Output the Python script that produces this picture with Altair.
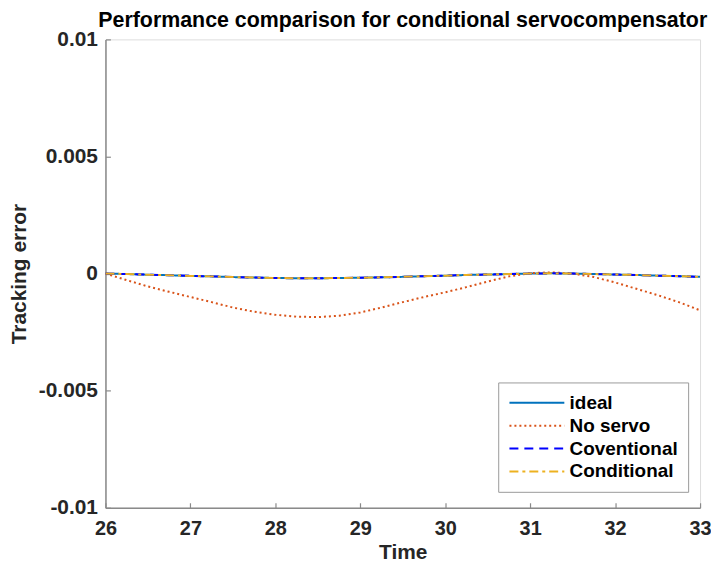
import altair as alt
import pandas as pd

time = [26.0, 26.25, 26.5, 26.75, 27.0, 27.25, 27.5, 27.75, 28.0, 28.25, 28.5, 28.75,
        29.0, 29.25, 29.5, 29.75, 30.0, 30.25, 30.5, 30.75, 31.0, 31.25, 31.5, 31.75,
        32.0, 32.25, 32.5, 32.75, 33.0]

no_servo = [0.0, -0.28, -0.55, -0.78, -1.00, -1.22, -1.45, -1.63, -1.76, -1.84, -1.86, -1.80,
            -1.66, -1.45, -1.22, -1.00, -0.80, -0.58, -0.34, -0.12, 0.02, 0.05, 0.00, -0.15,
            -0.38, -0.65, -0.92, -1.22, -1.57]

ideal = [0.0, -0.02, -0.05, -0.07, -0.10, -0.12, -0.15, -0.17, -0.19, -0.20, -0.20, -0.19,
         -0.18, -0.16, -0.14, -0.11, -0.09, -0.06, -0.04, -0.02, 0.00, 0.01, 0.00, -0.02,
         -0.04, -0.06, -0.09, -0.11, -0.14]

conventional = list(ideal)
conditional = list(ideal)

series_names = ["ideal", "No servo", "Coventional", "Conditional"]
series_colors = ["#0072BD", "#D95319", "#0000FF", "#EDB120"]
series_dash = [[1, 0], [2, 3], [9, 6], [9, 4, 3, 4]]
series_width = [2, 2, 2, 3]

rows = []
for name, vals in zip(series_names, [ideal, no_servo, conventional, conditional]):
    for t, v in zip(time, vals):
        rows.append({"Time": t, "err": v * 1e-3, "series": name})
df = pd.DataFrame(rows)

W, H = 598, 471
FONT = "Liberation Sans"
AXC = "#8a8a8a"
TXT = "#262626"

xscale = alt.Scale(domain=[26, 33], nice=False, zero=False)
yscale = alt.Scale(domain=[-0.01, 0.01], nice=False, zero=False)

x_enc = alt.X("Time:Q", scale=xscale,
              axis=alt.Axis(title="Time", values=list(range(26, 34)), ticks=False,
                            labelFontSize=20, labelFontWeight="bold", labelColor=TXT,
                            labelFont=FONT, titleFont=FONT, titleFontSize=21, titleFontWeight="bold",
                            titleColor=TXT, domainColor=AXC, domainWidth=1.5, labelFlush=False,
                            grid=False, labelPadding=11, titlePadding=3, format="d"))
y_enc = alt.Y("err:Q", scale=yscale,
              axis=alt.Axis(title="Tracking error", values=[-0.01, -0.005, 0, 0.005, 0.01], ticks=False,
                            labelExpr="datum.value == 0 ? '0' : (datum.value < 0 ? '-' + format(-datum.value, '~g') : format(datum.value, '~g'))",
                            labelFontSize=21, labelFontWeight="bold", labelColor=TXT,
                            labelFont=FONT, titleFont=FONT, titleFontSize=21, titleFontWeight="bold",
                            titleColor=TXT, domainColor=AXC, domainWidth=1.5, labelFlush=False,
                            grid=False, labelPadding=8, titlePadding=9))

R = 9.2  # symbol half-size for legend layout
color_enc = alt.Color("series:N",
                      scale=alt.Scale(domain=series_names, range=series_colors),
                      sort=series_names,
                      legend=alt.Legend(title=None, orient="none", legendX=395, legendY=345,
                                        symbolType="M-1,0H5", symbolSize=(2 * R) ** 2,
                                        symbolStrokeWidth=2.5,
                                        labelFontSize=19, labelFontWeight="bold", labelFont=FONT,
                                        labelColor="#000000", rowPadding=2, labelOffset=4 * R + 4,
                                        strokeColor="#9a9a9a", fillColor="white", padding=10,
                                        cornerRadius=0))
dash_enc = alt.StrokeDash("series:N",
                          scale=alt.Scale(domain=series_names, range=series_dash),
                          sort=series_names, legend=alt.Legend(title=None))
width_enc = alt.StrokeWidth("series:N",
                            scale=alt.Scale(domain=series_names, range=series_width),
                            legend=None)

layers = []
for name in series_names:
    layers.append(
        alt.Chart(df).transform_filter(alt.datum.series == name).mark_line(clip=True).encode(
            x=x_enc, y=y_enc, color=color_enc, strokeDash=dash_enc, strokeWidth=width_enc
        )
    )
lines = alt.layer(*layers)

ticks_layer = alt.Chart(df).mark_point(opacity=0).encode(
    x=alt.X("Time:Q", scale=xscale,
            axis=alt.Axis(orient="top", offset=-H, values=list(range(26, 34)), labels=False,
                          domain=False, ticks=True, tickSize=5, tickColor=AXC, tickWidth=1.2,
                          title=None, grid=False)),
    y=alt.Y("err:Q", scale=yscale,
            axis=alt.Axis(orient="right", offset=-W, values=[-0.01, -0.005, 0, 0.005, 0.01],
                          labels=False, domain=False, ticks=True, tickSize=5, tickColor=AXC,
                          tickWidth=1.2, title=None, grid=False)),
)

chart = alt.layer(lines, ticks_layer).resolve_axis(x="independent", y="independent").properties(
    width=W, height=H,
    title=alt.TitleParams("Performance comparison for conditional servocompensator",
                          fontSize=21.5, fontWeight="bold", font=FONT, color="#000000",
                          anchor="middle", offset=8, dy=11),
    autosize=alt.AutoSizeParams(type="none"),
    padding={"left": 98, "top": 30, "right": 11, "bottom": 55},
).configure_view(stroke=None).configure(background="white")

chart.save("out.html", embed_options={"renderer": "svg", "actions": False})
